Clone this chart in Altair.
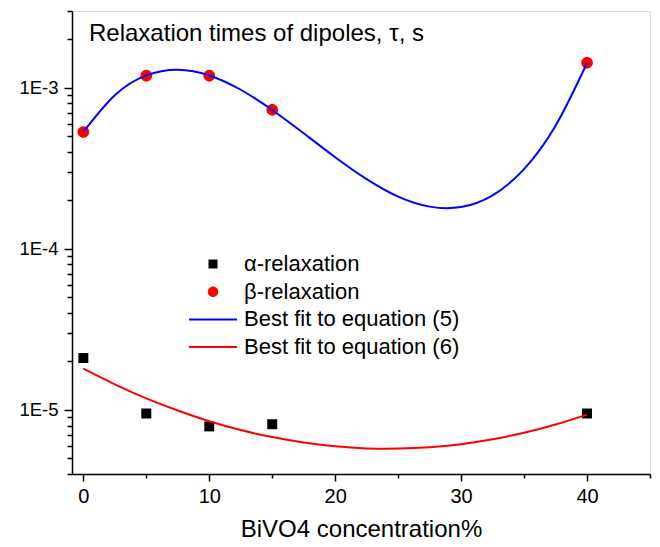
import altair as alt
import pandas as pd

FONT = "Liberation Sans"

# Measured relaxation times (s) against BiVO4 content (%)
conc = [0, 5, 10, 15, 40]
tau_alpha = [2.1e-5, 9.5e-6, 7.9e-6, 8.15e-6, 9.5e-6]
tau_beta = [5.32e-4, 1.19e-3, 1.19e-3, 7.3e-4, 1.43e-3]

# Fitted curves, sampled along the concentration axis
fit_conc = [0, 2.5, 5, 7.5, 10, 12.5, 15, 17.5, 20, 22.5, 25, 27.5, 30, 32.5, 35, 37.5, 40]
fit_eq5 = [5.32e-4, 8.99e-4, 1.194e-3, 1.294e-3, 1.194e-3, 9.73e-4, 7.29e-4, 5.22e-4,
           3.71e-4, 2.71e-4, 2.11e-4, 1.83e-4, 1.82e-4, 2.15e-4, 3.13e-4, 5.81e-4, 1.426e-3]
fit_eq6 = [1.803e-5, 1.442e-5, 1.180e-5, 9.91e-6, 8.51e-6, 7.50e-6, 6.78e-6, 6.27e-6,
           5.94e-6, 5.77e-6, 5.75e-6, 5.86e-6, 6.13e-6, 6.57e-6, 7.21e-6, 8.11e-6, 9.35e-6]

series = ["α-relaxation", "β-relaxation", "Best fit to equation (5)", "Best fit to equation (6)"]
colors = ["#000000", "#ff0000", "#0000ff", "#ff0000"]

# symbol paths in the unit box: square, disc and a short bar for the fit lines
SQUARE = "M-0.9,-0.9H0.9V0.9H-0.9Z"
DISC = "M-1.05,0A1.05,1.05,0,1,1,1.05,0A1.05,1.05,0,1,1,-1.05,0Z"
BAR = "M-4.8,-0.2H4.8V0.2H-4.8Z"
shapes = [SQUARE, DISC, BAR, BAR]

x_major = [0, 10, 20, 30, 40]
x_minor = [5, 15, 25, 35, 45]
y_major = [1e-5, 1e-4, 1e-3]
y_minor = [4e-6, 5e-6, 6e-6, 7e-6, 8e-6, 9e-6,
           2e-5, 3e-5, 4e-5, 5e-5, 6e-5, 7e-5, 8e-5, 9e-5,
           2e-4, 3e-4, 4e-4, 5e-4, 6e-4, 7e-4, 8e-4, 9e-4,
           2e-3, 3e-3]

pts = pd.DataFrame({
    "conc": conc + conc,
    "tau": tau_alpha + tau_beta,
    "series": [series[0]] * len(conc) + [series[1]] * len(conc),
})
fits = pd.DataFrame({
    "conc": fit_conc + fit_conc,
    "tau": fit_eq5 + fit_eq6,
    "series": [series[2]] * len(fit_conc) + [series[3]] * len(fit_conc),
})

x_scale = alt.Scale(domain=[-0.9, 45], nice=False, zero=False)
y_scale = alt.Scale(type="log", domain=[4e-6, 3e-3], nice=False)

legend = alt.Legend(
    title=None, orient="none", legendX=130, legendY=242, direction="vertical",
    padding=0, labelFont=FONT, labelFontSize=22, labelColor="black",
    labelOffset=20, labelLimit=400, symbolSize=100, symbolStrokeWidth=0,
    symbolOpacity=1, rowPadding=5.7,
)

fill = alt.Fill("series:N", scale=alt.Scale(domain=series, range=colors), legend=legend)
stroke = alt.Stroke("series:N", scale=alt.Scale(domain=series, range=colors), legend=legend)
shape = alt.Shape("series:N", scale=alt.Scale(domain=series, range=shapes), legend=legend)

axis_common = dict(domainColor="black", tickColor="black", labelColor="black",
                   tickWidth=1.5, domainWidth=1.5, grid=False, labelFont=FONT,
                   titleFont=FONT, titleColor="black")

x_axis_major = alt.Axis(values=x_major, format="d", orient="bottom",
                        title="BiVO4 concentration%", titleFontSize=24,
                        titleFontWeight="normal", titlePadding=11,
                        labelFontSize=20, labelPadding=5, tickSize=7,
                        labelFlush=False, **axis_common)
x_axis_minor = alt.Axis(values=x_minor, orient="bottom", labels=False, title=None,
                        tickSize=4, domain=False, tickColor="black", tickWidth=1.5,
                        grid=False)
y_axis_major = alt.Axis(values=y_major, orient="left", title=None,
                        labelExpr="'1E' + round(log(datum.value) / LN10)",
                        labelFontSize=18.5, labelPadding=6, tickSize=8, **axis_common)
y_axis_minor = alt.Axis(values=y_minor, orient="left", labels=False, title=None,
                        tickSize=5, domain=False, tickColor="black", tickWidth=1.5,
                        grid=False)

points = alt.Chart(pts).mark_point(filled=True, size=123, opacity=1, strokeWidth=0).encode(
    x=alt.X("conc:Q", scale=x_scale, axis=x_axis_major),
    y=alt.Y("tau:Q", scale=y_scale, axis=y_axis_major),
    fill=fill,
    shape=shape,
)

lines = alt.Chart(fits).mark_line(strokeWidth=2, interpolate="natural").encode(
    x=alt.X("conc:Q", scale=x_scale, axis=x_axis_minor),
    y=alt.Y("tau:Q", scale=y_scale, axis=y_axis_minor),
    stroke=stroke,
)

chart = alt.layer(points, lines).resolve_axis(
    x="independent", y="independent"
).properties(
    width=578,
    height=463,
    autosize="none",
    padding={"left": 72, "top": 11, "right": 10, "bottom": 73},
    title=alt.TitleParams(
        text="Relaxation times of dipoles, τ, s",
        anchor="start", frame="group", orient="top", offset=0,
        dx=17, dy=55, baseline="alphabetic",
        font=FONT, fontSize=24, fontWeight="normal", color="black",
    ),
).configure_view(stroke=None).configure(background="white")

chart.save("out.html", embed_options={"renderer": "svg", "actions": False})
